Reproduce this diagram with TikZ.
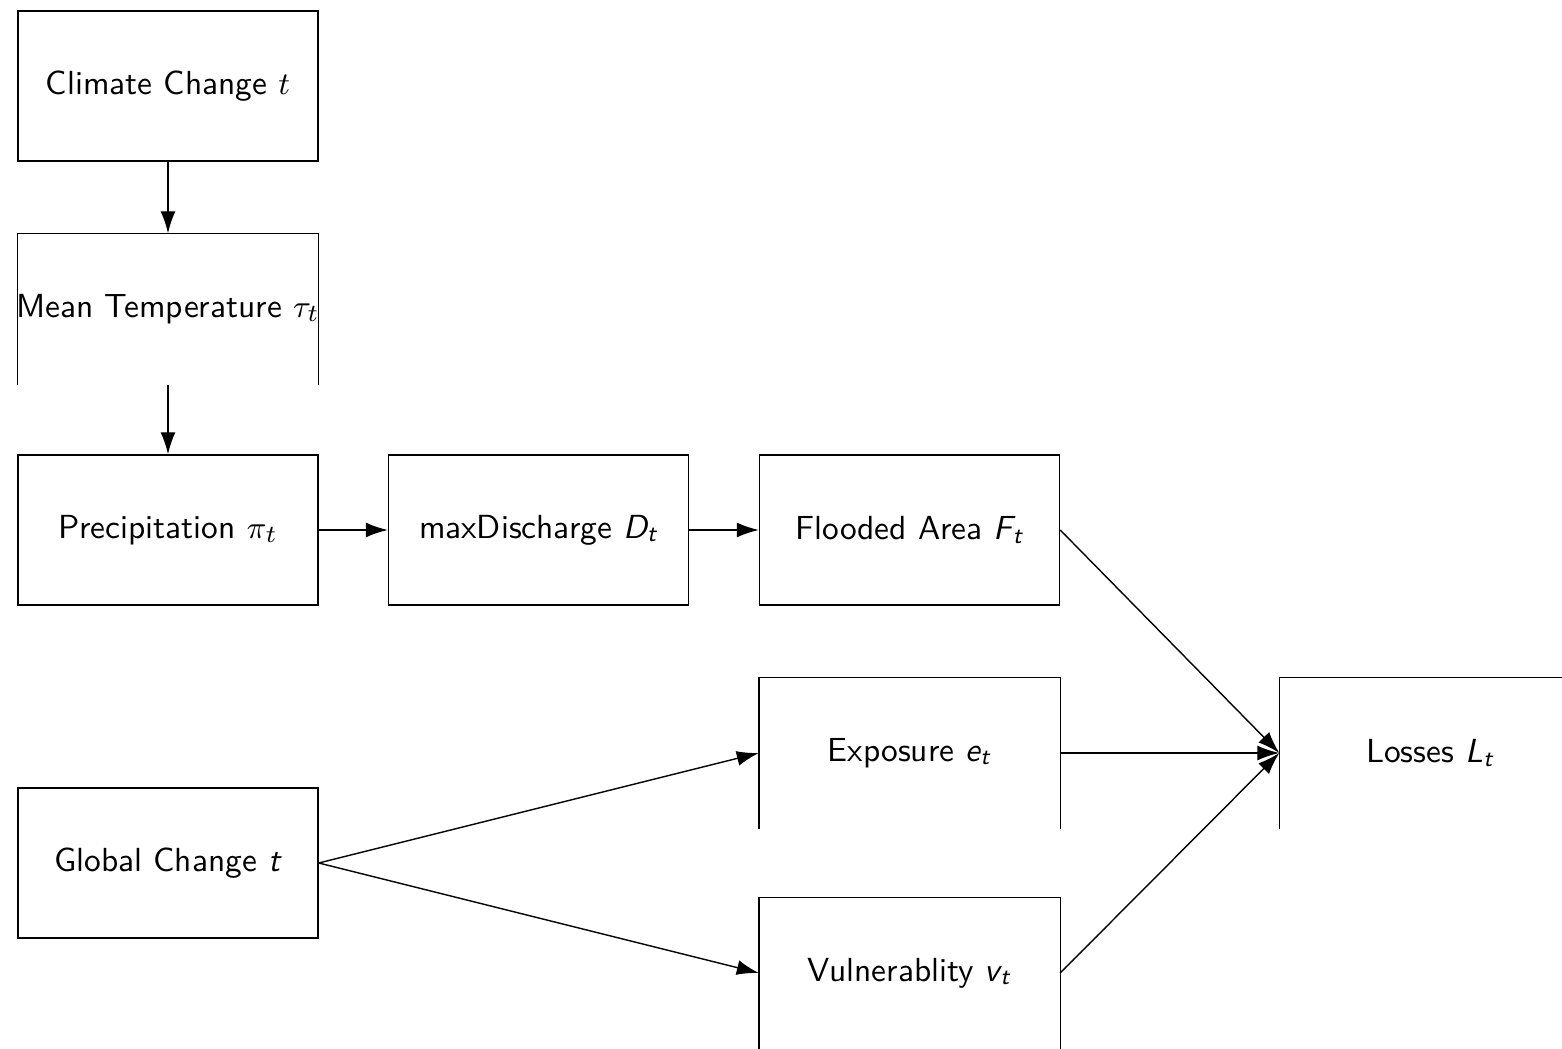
\documentclass[tikz,border=0pt]{standalone}
\usetikzlibrary{arrows.meta}
\renewcommand{\familydefault}{\sfdefault}
\tikzset{
  box/.style={minimum width=3cm, minimum height=1.5cm, inner sep=0pt,
    font=\fontsize{9.5pt}{11pt}\selectfont},
  shut/.style={box, draw},
  link/.style={-{Latex[length=2.2mm,width=1.5mm]}}
}
\newcommand{\opentop}[1]{\draw (#1.south west) |- (#1.north east) -- (#1.south east);}
\begin{document}
\begin{tikzpicture}
\useasboundingbox (0,0) rectangle (15.62,10.48);
\node[shut] (clim) at (1.68,9.62) {Climate Change $t$};
\node[box] (temp) at (1.68,7.39) {\makebox[0pt]{Mean Temperature $\tau_t$}};
\node[shut] (prec) at (1.68,5.18) {Precipitation $\pi_t$};
\node[shut] (disc) at (5.385,5.18) {maxDischarge \textit{D\textsubscript{t}}};
\node[shut] (flood) at (9.095,5.18) {Flooded Area \textit{F\textsubscript{t}}};
\node[box] (expo) at (9.095,2.95) {Exposure \textit{e\textsubscript{t}}};
\node[box] (loss) at (14.30,2.95) {Losses \textit{L\textsubscript{t}}};
\node[shut] (glob) at (1.68,1.85) {Global Change \textit{t}};
\node[box] (vuln) at (9.095,0.75) {Vulnerablity \textit{v\textsubscript{t}}};
\opentop{temp}
\opentop{expo}
\opentop{loss}
\opentop{vuln}
\draw[link] (clim) -- (temp);
\draw[link] (temp) -- (prec);
\draw[link] (prec) -- (disc);
\draw[link] (disc) -- (flood);
\draw[link] (glob.east) -- (expo.west);
\draw[link] (glob.east) -- (vuln.west);
\draw[link] (flood.east) -- (loss.west);
\draw[link] (expo.east) -- (loss.west);
\draw[link] (vuln.east) -- (loss.west);
\end{tikzpicture}
\end{document}
